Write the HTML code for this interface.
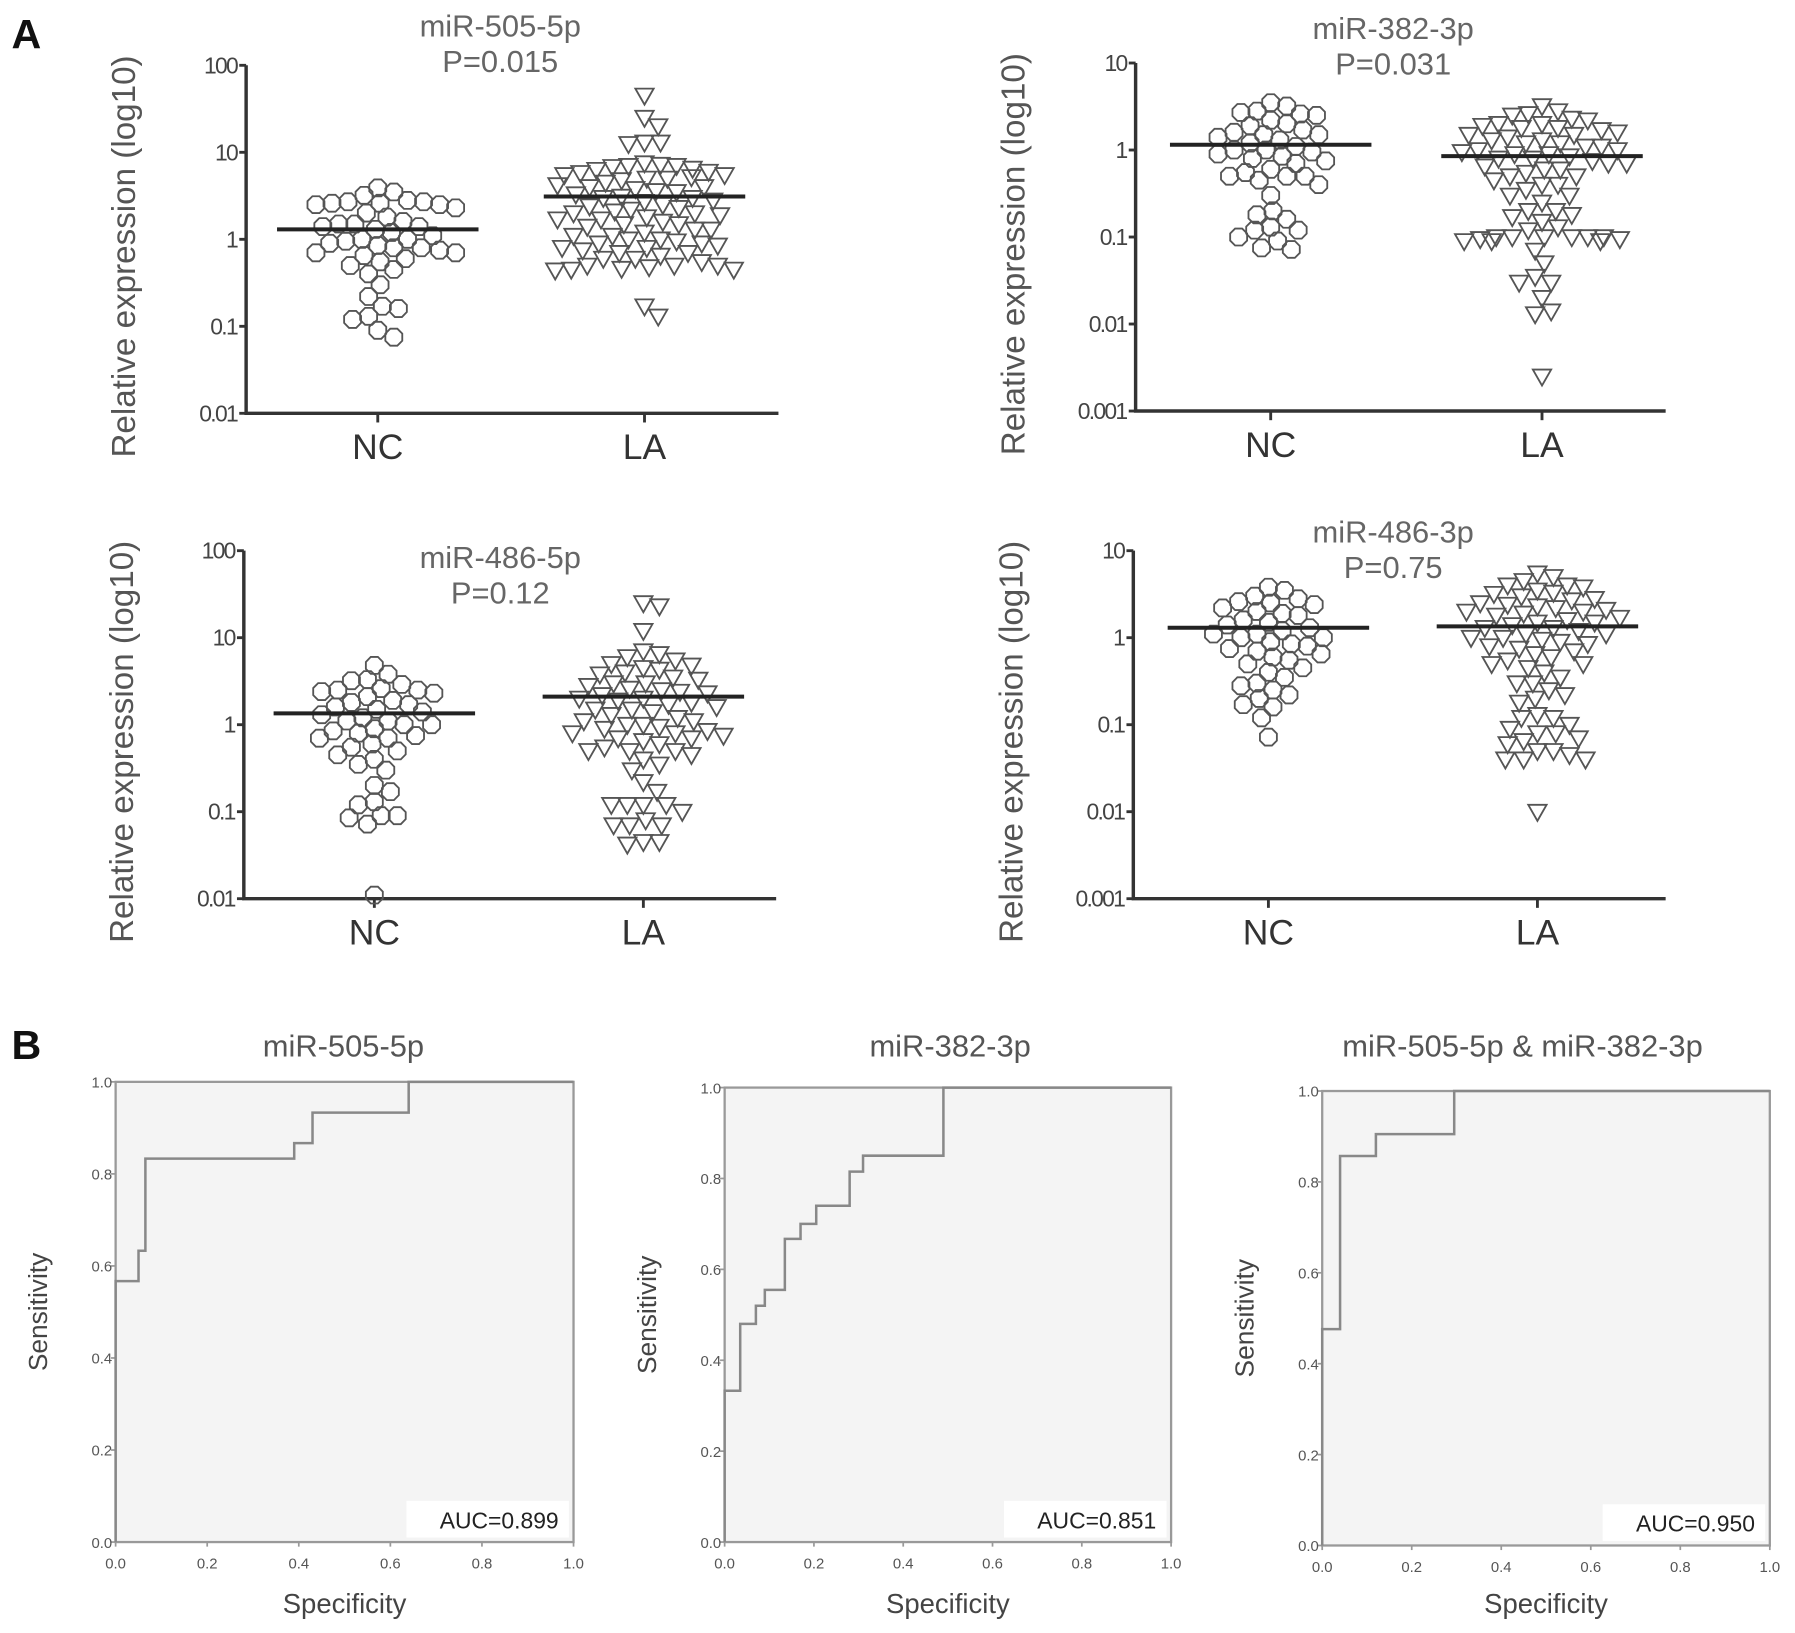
<!DOCTYPE html>
<html><head><meta charset="utf-8"><style>
html,body{margin:0;padding:0;background:#fff;}
svg{display:block;}
text{font-family:"Liberation Sans",sans-serif;}
</style></head><body>
<svg id="fig" width="1795" height="1633" viewBox="0 0 1568 1426.4" xmlns="http://www.w3.org/2000/svg">
<rect width="1568" height="1426.4" fill="#fff"/>
<text x="10" y="42" font-size="36" font-weight="bold" fill="#111">A</text>
<text x="10" y="925" font-size="36" font-weight="bold" fill="#111">B</text>
</svg>
<script>
// ---- Scatter data (panel A) ----
const a1Title = "miR-505-5p", a1P = "P=0.015";
const a1NC = [3.9,3.5,3.2,2.8,2.7,2.7,2.6,2.6,2.5,2.5,2.3,2.0,1.8,1.6,1.5,1.5,1.4,1.4,1.3,1.2,1.1,1.0,1.0,0.95,0.9,0.85,0.8,0.8,0.75,0.7,0.7,0.65,0.6,0.55,0.5,0.45,0.4,0.3,0.22,0.17,0.16,0.13,0.12,0.09,0.075];
const a1LA = [45,25,20,13,13,12.5,7.5,7.2,7,7,6.8,6.5,6.3,6,5.8,5.5,5.5,5.2,5,5,4.8,4.5,4.2,4,4,3.8,3.6,3.5,3.3,3.1,3,3,2.8,2.7,2.5,2.4,2.3,2.2,2.1,2,2,1.9,1.8,1.7,1.7,1.6,1.5,1.5,1.4,1.3,1.3,1.2,1.1,1.1,1,1,0.95,0.9,0.9,0.85,0.8,0.8,0.75,0.7,0.7,0.65,0.6,0.6,0.55,0.5,0.5,0.5,0.48,0.46,0.45,0.45,0.44,0.17,0.13];
const a1Means = [1.3, 3.1];
const a2Title = "miR-382-3p", a2P = "P=0.031";
const a2NC = [3.5,3.2,2.8,2.7,2.6,2.5,2.2,2.0,1.9,1.7,1.6,1.5,1.5,1.4,1.3,1.2,1.1,1,1,0.95,0.9,0.85,0.8,0.75,0.7,0.6,0.55,0.5,0.5,0.5,0.45,0.4,0.3,0.2,0.18,0.16,0.13,0.12,0.12,0.1,0.09,0.075,0.072];
const a2LA = [3.2,2.8,2.6,2.5,2.3,2.2,2,2,1.9,1.8,1.8,1.7,1.6,1.5,1.5,1.4,1.3,1.3,1.2,1.2,1.1,1.1,1,1,0.95,0.9,0.9,0.85,0.8,0.8,0.75,0.7,0.7,0.65,0.6,0.6,0.55,0.5,0.5,0.45,0.4,0.4,0.35,0.3,0.3,0.25,0.2,0.2,0.18,0.17,0.15,0.13,0.12,0.1,0.1,0.1,0.1,0.1,0.1,0.095,0.095,0.09,0.09,0.09,0.07,0.05,0.035,0.03,0.03,0.02,0.014,0.013,0.0025];
const a2Means = [1.15, 0.85];
const a3Title = "miR-486-5p", a3P = "P=0.12";
const a3NC = [4.8,3.8,3.3,3.2,2.9,2.6,2.5,2.5,2.4,2.3,2.1,1.9,1.8,1.7,1.6,1.5,1.4,1.3,1.2,1.1,1.1,1,1,0.9,0.85,0.8,0.75,0.7,0.7,0.6,0.55,0.5,0.45,0.4,0.35,0.3,0.2,0.17,0.13,0.12,0.09,0.09,0.085,0.072,0.011];
const a3LA = [25,23,12,7,6.5,6,5.5,5,4.8,4.5,4.3,4,3.8,3.5,3.3,3,3,2.8,2.6,2.5,2.4,2.3,2.2,2,2,1.9,1.8,1.7,1.6,1.5,1.5,1.4,1.3,1.2,1.1,1.1,1,1,0.95,0.9,0.85,0.8,0.8,0.75,0.7,0.7,0.65,0.6,0.55,0.5,0.5,0.5,0.45,0.4,0.35,0.3,0.22,0.17,0.12,0.12,0.12,0.12,0.1,0.08,0.07,0.07,0.07,0.045,0.045,0.042];
const a3Means = [1.35, 2.1];
const a4Title = "miR-486-3p", a4P = "P=0.75";
const a4NC = [3.8,3.5,3,2.8,2.6,2.5,2.4,2.2,2,1.9,1.8,1.6,1.5,1.4,1.3,1.2,1.1,1.1,1,1,0.9,0.85,0.8,0.75,0.7,0.65,0.6,0.55,0.5,0.45,0.4,0.35,0.3,0.28,0.25,0.22,0.2,0.17,0.16,0.12,0.072];
const a4LA = [5.5,5,4.5,4,4,3.8,3.5,3.3,3.2,3,2.8,2.7,2.5,2.4,2.3,2.2,2.1,2,2,1.9,1.8,1.7,1.6,1.5,1.5,1.4,1.3,1.3,1.2,1.1,1.1,1,1,0.95,0.9,0.85,0.8,0.75,0.7,0.65,0.6,0.55,0.5,0.5,0.45,0.4,0.35,0.3,0.3,0.25,0.22,0.2,0.18,0.13,0.12,0.12,0.1,0.09,0.08,0.08,0.07,0.065,0.06,0.05,0.05,0.045,0.04,0.04,0.04,0.01];
const a4Means = [1.3, 1.35];
const groupLabels = ["NC","LA"];
const ticksA13 = ["100","10","1","0.1","0.01"];
const ticksA24 = ["10","1","0.1","0.01","0.001"];

// ---- ROC data (panel B) ----
const b1Title = "miR-505-5p", b1Auc = "AUC=0.899";
const b1X = [0,0,0.05,0.05,0.065,0.065,0.39,0.39,0.43,0.43,0.64,0.64,1];
const b1Y = [0,0.567,0.567,0.633,0.633,0.833,0.833,0.867,0.867,0.933,0.933,1,1];
const b2Title = "miR-382-3p", b2Auc = "AUC=0.851";
const b2X = [0,0,0.035,0.035,0.07,0.07,0.09,0.09,0.135,0.135,0.17,0.17,0.205,0.205,0.28,0.28,0.31,0.31,0.49,0.49,1];
const b2Y = [0,0.333,0.333,0.48,0.48,0.52,0.52,0.555,0.555,0.667,0.667,0.70,0.70,0.74,0.74,0.815,0.815,0.85,0.85,1,1];
const b3Title = "miR-505-5p & miR-382-3p", b3Auc = "AUC=0.950";
const b3X = [0,0,0.04,0.04,0.12,0.12,0.295,0.295,1];
const b3Y = [0,0.476,0.476,0.857,0.857,0.905,0.905,1,1];
const rocTicks = ["0.0","0.2","0.4","0.6","0.8","1.0"];

const NS="http://www.w3.org/2000/svg";
const svg=document.getElementById('fig');
function mk(tag,attrs,parent){const e=document.createElementNS(NS,tag);for(const k in attrs)e.setAttribute(k,attrs[k]);(parent||svg).appendChild(e);return e;}

function swarm(vals,cx,yf,r,maxOff){
  const placed=[];const order=vals.map((v,i)=>i).sort((a,b)=>vals[b]-vals[a]);
  const res=new Array(vals.length);
  order.forEach((i,k)=>{
    const y=yf(vals[i]);let best=null;
    for(let s=0;s<=maxOff;s+=2){
      for(const sg of (s===0?[1]:[1,-1])){
        const x=cx+sg*s;
        if(placed.every(p=>(p.x-x)**2+(p.y-y)**2>=(2*r*0.84)**2)){best=x;break;}
      }
      if(best!==null)break;
    }
    if(best===null)best=cx+((k%2)?1:-1)*((k*7)%maxOff);
    placed.push({x:best,y});res[i]={x:best,y};
  });
  return res;
}

function scatterPanel(o){
  const g=mk('g',{});
  
  
  const yf=v=>o.yTop+(o.topExp-Math.log10(v))/4*(o.yBot-o.yTop);
  const gx=[o.ncx, o.lax];
  const axis=mk('path',{d:`M${o.ax},${o.yTop} V${o.yBot} H${o.xEnd}`,stroke:'#333','stroke-width':3,fill:'none'},g);
  
  
  o.ticks.forEach((t,i)=>{
    const y=o.yTop+i*(o.yBot-o.yTop)/4;
    mk('line',{x1:o.ax-6,x2:o.ax,y1:y,y2:y,stroke:'#333','stroke-width':2.5},g);
    const tx=mk('text',{x:o.ax-8,y:y+7,'font-size':20,'text-anchor':'end',fill:'#444','letter-spacing':'-1.5'},g);
    tx.textContent=t;
    
    
  });
  groupLabels.forEach((lab,i)=>{
    mk('line',{x1:gx[i],x2:gx[i],y1:o.yBot,y2:o.yBot+8,stroke:'#333','stroke-width':2.5},g);
    const t=mk('text',{x:gx[i],y:o.yBot+40,'font-size':31,'text-anchor':'middle',fill:'#333'},g);
    t.textContent=lab;
    
    
  });
  const yl=mk('text',{x:0,y:0,'font-size':29,'text-anchor':'middle',fill:'#555',transform:`translate(${o.ax-97},${(o.yTop+o.yBot)/2+15}) rotate(-90)`},g);
  yl.textContent="Relative expression (log10)";
  
  
  const t1=mk('text',{x:o.tx,y:o.ty,'font-size':27,'text-anchor':'middle',fill:'#666'},g);
  t1.textContent=o.title;
  
  
  const t2=mk('text',{x:o.tx,y:o.ty+31,'font-size':27,'text-anchor':'middle',fill:'#666'},g);
  t2.textContent=o.p;
  
  
  const r=8;
  swarm(o.nc,gx[0],yf,r,76).forEach(p=>{
    const pts=[];for(let k=0;k<8;k++){const a=Math.PI/8+k*Math.PI/4;pts.push((p.x+r*Math.cos(a)).toFixed(1)+','+(p.y+r*Math.sin(a)).toFixed(1));}
    const c=mk('polygon',{points:pts.join(' '),fill:'none',stroke:'#555','stroke-width':1.6},g);
    
    
  });
  swarm(o.la,gx[1],yf,r,78).forEach(p=>{
    const c=mk('polygon',{points:`${p.x-8},${p.y-6} ${p.x+8},${p.y-6} ${p.x},${p.y+8}`,fill:'none',stroke:'#555','stroke-width':1.6},g);
    
    
  });
  o.means.forEach((m,i)=>{
    const l=mk('line',{x1:gx[i]-88,x2:gx[i]+88,y1:yf(m),y2:yf(m),stroke:'#222','stroke-width':3.5},g);
    
    
  });
}
scatterPanel({name:'scatter-mir-505-5p',ax:215,yTop:57,yBot:361,xEnd:680,ncx:330,lax:563,topExp:2,ticks:ticksA13,title:a1Title,p:a1P,tx:437,ty:32,nc:a1NC,la:a1LA,means:a1Means});
scatterPanel({name:'scatter-mir-382-3p',ax:992,yTop:55,yBot:359,xEnd:1455,ncx:1110,lax:1347,topExp:1,ticks:ticksA24,title:a2Title,p:a2P,tx:1217,ty:34,nc:a2NC,la:a2LA,means:a2Means});
scatterPanel({name:'scatter-mir-486-5p',ax:213,yTop:481,yBot:785,xEnd:678,ncx:327,lax:562,topExp:2,ticks:ticksA13,title:a3Title,p:a3P,tx:437,ty:496,nc:a3NC,la:a3LA,means:a3Means});
scatterPanel({name:'scatter-mir-486-3p',ax:990,yTop:481,yBot:785,xEnd:1455,ncx:1108,lax:1343,topExp:1,ticks:ticksA24,title:a4Title,p:a4P,tx:1217,ty:474,nc:a4NC,la:a4LA,means:a4Means});

function rocPanel(o){
  const g=mk('g',{});
  
  
  const xf=v=>o.l+v*(o.r-o.l), yf=v=>o.b-v*(o.b-o.t);
  const bg=mk('rect',{x:o.l,y:o.t,width:o.r-o.l,height:o.b-o.t,fill:'#f4f4f4',stroke:'#999','stroke-width':2},g);
  
  
  rocTicks.forEach((t,i)=>{
    const v=i/5;
    mk('line',{x1:o.l-4,x2:o.l,y1:yf(v),y2:yf(v),stroke:'#999','stroke-width':1.5},g);
    mk('line',{x1:xf(v),x2:xf(v),y1:o.b,y2:o.b+4,stroke:'#999','stroke-width':1.5},g);
    const ty=mk('text',{x:o.l-3,y:yf(v)+5,'font-size':13,'text-anchor':'end',fill:'#555'},g);
    ty.textContent=t;
    
    
    const tx=mk('text',{x:xf(v),y:o.b+23,'font-size':13,'text-anchor':'middle',fill:'#555'},g);
    tx.textContent=t;
    
    
  });
  const d=o.xs.map((x,i)=>(i?'L':'M')+xf(x).toFixed(1)+','+yf(o.ys[i]).toFixed(1)).join(' ');
  const p=mk('path',{d,fill:'none',stroke:'#888','stroke-width':2.2},g);
  
  
  const ab=mk('rect',{x:o.r-146,y:o.b-36,width:142,height:32,fill:'#fff'},g);
  
  
  const at=mk('text',{x:o.r-13,y:o.b-12,'font-size':20,'text-anchor':'end',fill:'#222'},g);
  at.textContent=o.auc;
  
  
  const tt=mk('text',{x:o.tx,y:923,'font-size':27,'text-anchor':'middle',fill:'#555'},g);
  tt.textContent=o.title;
  
  
  const xl=mk('text',{x:(o.l+o.r)/2,y:1409,'font-size':24,'text-anchor':'middle',fill:'#444'},g);
  xl.textContent="Specificity";
  
  
  const yl=mk('text',{x:0,y:0,'font-size':23,'text-anchor':'middle',fill:'#444',transform:`translate(${o.l-60},${(o.t+o.b)/2}) rotate(-90)`},g);
  yl.textContent="Sensitivity";
  
  
}
rocPanel({name:'roc-mir-505-5p',l:101,r:501,t:945,b:1347,xs:b1X,ys:b1Y,auc:b1Auc,title:b1Title,tx:300});
rocPanel({name:'roc-mir-382-3p',l:633,r:1023,t:950,b:1347,xs:b2X,ys:b2Y,auc:b2Auc,title:b2Title,tx:830});
rocPanel({name:'roc-combined',l:1155,r:1546,t:953,b:1350,xs:b3X,ys:b3Y,auc:b3Auc,title:b3Title,tx:1330});
</script>
</body></html>
